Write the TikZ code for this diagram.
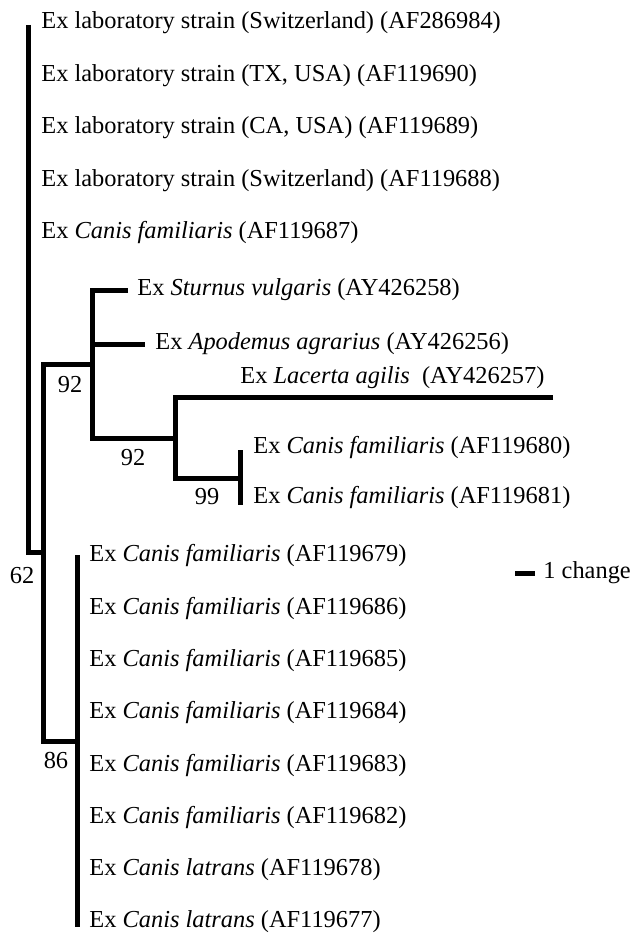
\documentclass[tikz,border=0pt]{standalone}
\usepackage{fontspec}
\setmainfont{Liberation Serif}
\tikzset{
  branch/.style={line width=2.5pt},
  taxon/.style={anchor=west,inner sep=0pt},
  boot/.style={inner sep=0pt},
}
\begin{document}
\begin{tikzpicture}[x=0.5pt,y=-0.5pt,font=\fontsize{12.2}{14}\selectfont]
\useasboundingbox (0,0) rectangle (632,936);
% taxa on the root line
\foreach \y/\txt [count=\i] in {23/{laboratory strain (Switzerland) (AF286984)},
  75.5/{laboratory strain (TX, USA) (AF119690)},
  128/{laboratory strain (CA, USA) (AF119689)},
  180.5/{laboratory strain (Switzerland) (AF119688)},
  233/{\textit{Canis familiaris} (AF119687)}}
{
  \node[taxon] (lab\i) at (41,\y) {Ex \txt};
}
% taxa of the 86 clade
\foreach \k/\sp/\acc [count=\i] in {0/familiaris/AF119679,1/familiaris/AF119686,
  2/familiaris/AF119685,3/familiaris/AF119684,4/familiaris/AF119683,
  5/familiaris/AF119682,6/latrans/AF119678,7/latrans/AF119677}
{
  \node[taxon] (dog\i) at (89,556+52.3*\k) {Ex \textit{Canis \sp} (\acc)};
}
\node[taxon] (stur) at (137,290) {Ex \textit{Sturnus vulgaris} (AY426258)};
\node[taxon] (apo) at (155,344) {Ex \textit{Apodemus agrarius} (AY426256)};
\node[taxon] (lac) at (240,378) {Ex \textit{Lacerta agilis}\ \ (AY426257)};
\node[taxon] (cf680) at (253,448) {Ex \textit{Canis familiaris} (AF119680)};
\node[taxon] (cf681) at (253,498) {Ex \textit{Canis familiaris} (AF119681)};

% internal nodes and tips
\coordinate (root) at (28,25);
\coordinate (rootb) at (28,552);
\coordinate (n62) at (43,552);
\coordinate (n92a) at (92,364);
\coordinate (n92b) at (175,438);
\coordinate (n99) at (240,478);
\coordinate (n86) at (77,741);
\coordinate (sturtip) at (128,290);
\coordinate (apotip) at (145,344);
\coordinate (lactip) at (553,397);
\coordinate (tip680) at (240,450);
\coordinate (tip681) at (240,505);
\coordinate (dogtop) at (77,555);
\coordinate (dogbot) at (77,927);

\draw[branch] (root) -- (rootb) -- (n62);
\draw[branch] (n92a) -| (n62) |- (n86);
\draw[branch] (sturtip) -| (n92a) |- (n92b);
\draw[branch] (n92a |- apotip) -- (apotip);
\draw[branch] (lactip) -| (n92b) |- (n99);
\draw[branch] (tip680) -- (tip681);
\draw[branch] (dogtop) -- (dogbot);

% bootstrap values
\node[boot] (b62) at (22,576) {62};
\node[boot] (b92a) at (70,385) {92};
\node[boot] (b92b) at (133,458) {92};
\node[boot] (b99) at (207,497) {99};
\node[boot] (b86) at (56,760) {86};

% scale
\coordinate (sc1) at (515,573);
\coordinate (sc2) at (535,573);
\draw[branch] (sc1) -- (sc2);
\node[taxon] (sclab) at (543,573) {1 change};
\end{tikzpicture}
\end{document}
